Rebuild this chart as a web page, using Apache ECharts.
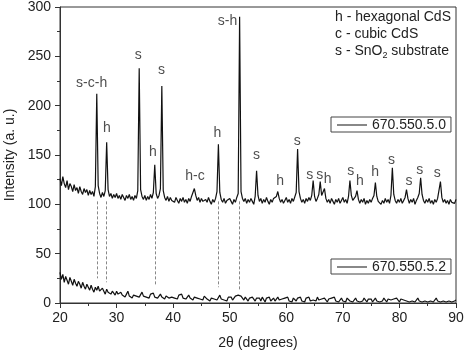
<!DOCTYPE html>
<html>
<head>
<meta charset="utf-8">
<script src="https://cdn.jsdelivr.net/npm/echarts@6/dist/echarts.min.js"></script>
<style>
  html, body { margin: 0; padding: 0; background: #fff; }
  #chart { width: 464px; height: 351px; }
</style>
</head>
<body>
<div id="chart"></div>
<script>
// 2θ grid, 0.25 degree step from 20 to 90
const thetaStart = 20;
const thetaStep = 0.25;

// sample 670.550.5.0 (upper trace)
const upper = [
  126, 119, 128, 121, 117, 124, 115, 121, 118, 113, 120, 114, 117, 111, 118, 113, 110, 116, 112, 115,
  109, 114, 110, 113, 108, 118, 212, 119, 111, 107, 112, 108, 114, 163, 115, 108, 111, 106, 110, 107,
  111, 106, 109, 105, 110, 107, 104, 109, 106, 110, 105, 108, 104, 109, 106, 114, 238, 115, 108, 105,
  109, 104, 108, 105, 110, 106, 112, 140, 111, 106, 109, 116, 220, 114, 107, 104, 108, 103, 107, 104,
  106, 102, 107, 104, 101, 106, 103, 107, 102, 105, 101, 106, 103, 108, 110, 116, 109, 104, 107, 102,
  106, 103, 101, 105, 102, 107, 103, 100, 105, 102, 106, 113, 161, 112, 105, 102, 106, 101, 104, 102,
  106, 103, 100, 105, 102, 107, 111, 290, 113, 106, 103, 106, 101, 105, 102, 106, 103, 100, 108, 134,
  109, 103, 106, 101, 105, 102, 107, 103, 100, 105, 102, 106, 104, 108, 113, 106, 102, 105, 101, 104,
  107, 102, 105, 101, 106, 103, 105, 112, 156, 113, 106, 102, 105, 101, 106, 103, 107, 104, 109, 124,
  108, 103, 106, 110, 123, 109, 107, 116, 106, 102, 105, 101, 106, 103, 100, 105, 102, 106, 101, 104,
  107, 102, 105, 101, 108, 124, 109, 104, 106, 108, 114, 105, 101, 105, 102, 106, 100, 104, 101, 105,
  102, 106, 109, 122, 108, 103, 105, 100, 104, 101, 106, 102, 105, 101, 109, 137, 110, 104, 101, 105,
  102, 106, 101, 104, 107, 115, 106, 101, 105, 102, 106, 100, 104, 107, 111, 127, 110, 104, 101, 105,
  102, 106, 101, 104, 100, 105, 102, 106, 108, 123, 107, 102, 105, 101, 104, 100, 105, 102, 104, 101,
  105
];

// sample 670.550.5.2 (lower trace)
const lower = [
  31, 24, 29, 21, 27, 23, 19, 26, 22, 18, 24, 20, 17, 22, 19, 15, 21, 17, 14, 19,
  16, 13, 18, 14, 11, 16, 13, 17, 12, 10, 15, 12, 9, 14, 11, 13, 9, 12, 10, 8,
  12, 9, 7, 11, 8, 10, 6, 9, 12, 7, 9, 5, 8, 10, 7, 9, 6, 8, 11, 7,
  9, 6, 8, 5, 9, 7, 10, 6, 8, 5, 7, 9, 6, 8, 4, 7, 9, 5, 7, 6,
  8, 5, 7, 4, 8, 6, 9, 5, 7, 4, 6, 8, 5, 7, 3, 6, 8, 5, 7, 4,
  6, 3, 7, 5, 4, 6, 2, 5, 7, 4, 6, 3, 5, 8, 4, 6, 3, 5, 2, 6,
  4, 6, 3, 5, 7, 6, 8, 10, 7, 5, 3, 6, 4, 2, 5, 3, 6, 4, 2, 5,
  3, 5, 2, 6, 4, 1, 5, 3, 6, 2, 4, 5, 2, 4, 6, 3, 1, 4, 2, 5,
  3, 6, 2, 4, 1, 5, 3, 2, 5, 3, 6, 2, 4, 1, 5, 3, 6, 2, 4, 3,
  5, 2, 6, 3, 1, 4, 2, 5, 3, 1, 4, 2, 5, 3, 6, 2, 4, 1, 3, 5,
  2, 4, 1, 5, 3, 2, 4, 1, 3, 5, 2, 4, 1, 3, 2, 5, 3, 1, 4, 2,
  4, 1, 3, 5, 2, 4, 1, 3, 2, 5, 3, 1, 4, 2, 3, 1, 4, 2, 5, 3,
  1, 4, 2, 3, 5, 2, 4, 1, 3, 2, 4, 1, 3, 5, 2, 4, 1, 3, 2, 4,
  1, 3, 2, 4, 1, 3, 5, 2, 4, 1, 3, 2, 4, 1, 3, 2, 4, 1, 3, 2,
  3
];

// peak labels
const labelX = [25.6, 28.3, 33.85, 36.4, 37.95, 43.85, 47.8, 49.6, 54.75, 58.9, 61.95,
  64.15, 65.9, 67.3, 71.4, 73.0, 75.7, 78.6, 81.7, 83.6, 86.7];
const labelY = [223, 177, 251, 153, 236, 129, 172, 286, 150, 123, 164,
  130, 130, 126, 134, 123, 133, 145, 123, 135, 132];
const labelText = ['s-c-h', 'h', 's', 'h', 's', 'h-c', 'h', 's-h', 's', 'h', 's',
  's', 's', 'h', 's', 'h', 'h', 's', 's', 's', 's'];

// dashed guide lines between the traces
const guideX = [26.5, 28.25, 36.75, 48, 51.75];
const guideTop = 103;
const guideBottom = [25, 21, 18, 16, 13];

const seriesNames = ['670.550.5.0', '670.550.5.2'];

const toPairs = (arr) => arr.map((v, i) => [thetaStart + i * thetaStep, v]);

const ink = '#222';
const trace = '#111';
const font = 'Arial, "Liberation Sans", sans-serif';

const legendBox = (name, top) => ({
  data: [name], left: 331, top,
  icon: 'rect', itemWidth: 30, itemHeight: 1,
  padding: [1, 5, 0, 6], borderColor: '#444', borderWidth: 1, borderRadius: 0,
  textStyle: { fontSize: 14, color: ink, fontFamily: font },
});

const chart = echarts.init(document.getElementById('chart'));
chart.setOption({
  animation: false,
  grid: {
    left: 60, right: 8, top: 7, bottom: 48, outerBoundsMode: 'none', containLabel: false,
    show: true, borderColor: '#333', borderWidth: 1,
  },
  textStyle: { fontFamily: font },
  legend: [legendBox(seriesNames[0], 117), legendBox(seriesNames[1], 259)],
  xAxis: {
    type: 'value', min: 20, max: 90, interval: 10,
    name: '2θ (degrees)', nameLocation: 'middle', nameGap: 33,
    nameTextStyle: { fontSize: 14, color: ink },
    axisLine: { lineStyle: { color: '#333', width: 1 } },
    axisTick: { length: 5, lineStyle: { color: '#333' } },
    minorTick: { show: true, splitNumber: 2, length: 3, lineStyle: { color: '#333' } },
    axisLabel: { fontSize: 14, color: ink, margin: 8 },
    splitLine: { show: false },
  },
  yAxis: {
    type: 'value', min: 0, max: 300, interval: 50,
    name: 'Intensity (a. u.)', nameLocation: 'middle', nameGap: 42,
    nameTextStyle: { fontSize: 14, color: ink },
    axisLine: { show: true, lineStyle: { color: '#333', width: 1 } },
    axisTick: { show: true, length: 5, lineStyle: { color: '#333' } },
    minorTick: { show: true, splitNumber: 2, length: 3, lineStyle: { color: '#333' } },
    axisLabel: { fontSize: 14, color: ink, margin: 9 },
    splitLine: { show: false },
  },
  graphic: [
    {
      type: 'text', left: 335, top: 9,
      style: {
        text: 'h - hexagonal CdS\nc - cubic CdS\n{n|s - SnO}{sub|2}{n| substrate}',
        font: '14px ' + font, fill: ink, lineHeight: 17,
        rich: {
          n: { fontSize: 14, lineHeight: 17, fill: ink },
          sub: { fontSize: 9, lineHeight: 17, padding: [8, 0, 0, 0], fill: ink },
        },
      },
    },
  ],
  series: [
    {
      name: seriesNames[0], type: 'line', data: toPairs(upper),
      symbol: 'none', lineStyle: { color: trace, width: 1.2 }, itemStyle: { color: trace },
    },
    {
      name: seriesNames[1], type: 'line', data: toPairs(lower),
      symbol: 'none', lineStyle: { color: trace, width: 1.2 }, itemStyle: { color: trace },
      markLine: {
        silent: true, symbol: 'none', label: { show: false },
        lineStyle: { type: [3, 2], color: '#888', width: 1 },
        data: guideX.map((x, i) => [{ coord: [x, guideTop] }, { coord: [x, guideBottom[i]] }]),
      },
    },
    {
      name: 'labels', type: 'scatter', symbolSize: 1, silent: true,
      itemStyle: { color: 'rgba(0,0,0,0)' },
      data: labelX.map((x, i) => [x, labelY[i], labelText[i]]),
      label: {
        show: true, position: 'inside', fontSize: 14, color: ink,
        formatter: (p) => p.data[2],
      },
    },
  ],
});
</script>
</body>
</html>
